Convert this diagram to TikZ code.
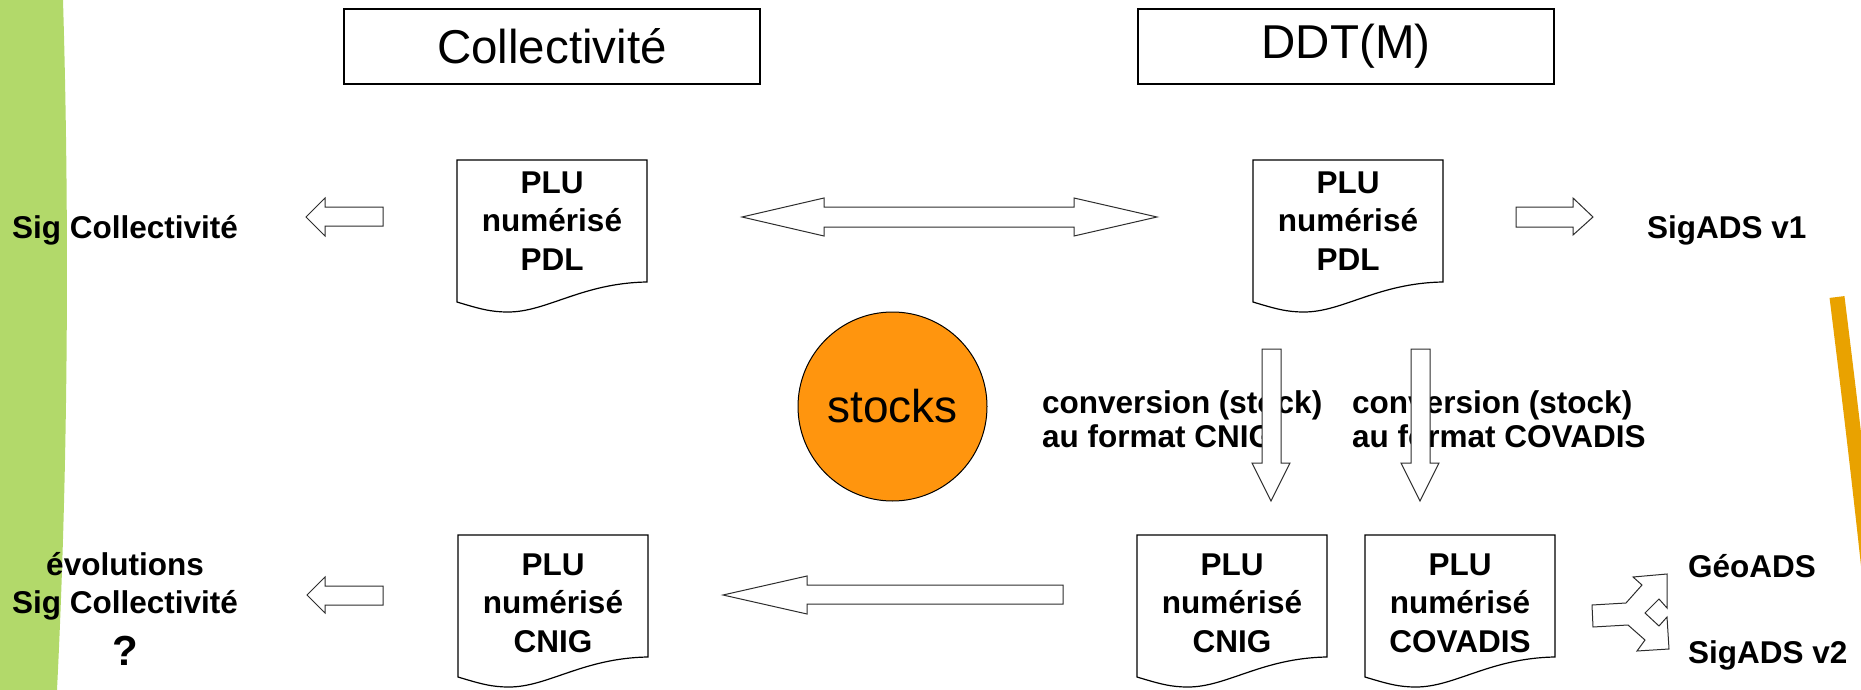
\documentclass[tikz,border=0pt]{standalone}
\usepackage{fontspec}
\setmainfont{Liberation Sans}
\definecolor{bandgreen}{RGB}{178,217,106}
\definecolor{stockorange}{RGB}{255,149,14}
\definecolor{curveorange}{RGB}{233,162,0}
\definecolor{arrowgray}{RGB}{45,45,45}
\tikzset{
 lbl/.style={font=\fontsize{31.5}{38.5}\selectfont\bfseries, inner sep=0pt, align=center},
 lbll/.style={font=\fontsize{31.5}{34}\selectfont\bfseries, inner sep=0pt, align=left},
 titlebox/.style={draw=black, line width=1.2pt, minimum width=416pt, minimum height=75pt, inner sep=0pt,
   font=\fontsize{47.5}{50}\selectfont},
 docout/.style={draw=black, line width=1.2pt, fill=white},
 blockarrow/.style={draw=arrowgray, line width=1pt, fill=white, line join=miter},
 stockcircle/.style={circle, draw=black, line width=1pt, fill=stockorange, minimum size=189pt, inner sep=0pt,
   font=\fontsize{46}{50}\selectfont},
}
\newcommand\docshape[2]{%
  \draw[docout] (#1,#2+142) -- (#1,#2) -- (#1+190,#2) -- (#1+190,#2+122)
   .. controls (#1+125,#2+123) and (#1+90,#2+152) .. (#1+51,#2+152)
   .. controls (#1+34,#2+152) and (#1+23,#2+149) .. (#1,#2+142) -- cycle;}
\begin{document}
\begin{tikzpicture}[x=1pt,y=-1pt]
\useasboundingbox (0,0) rectangle (1861,690);
% background decorations
\fill[bandgreen] (0,0) -- (63,0) .. controls (69,200) and (69,450) .. (57,690) -- (0,690) -- cycle;
\draw[curveorange, line width=15pt] (1837,297) .. controls (1846,370) and (1856,450) .. (1869,570);

% title boxes
\node[titlebox] (coll) at (552,46.5) {Collectivité};
\node[titlebox] (ddt) at (1346,46.5) {DDT(M)};

% document shapes
\docshape{457}{160}
\docshape{1253}{160}
\docshape{458}{535}
\docshape{1137}{535}
\docshape{1365}{535}

\node[lbl, anchor=base] (docA) at (552,270) {PLU\\numérisé\\PDL};
\node[lbl, anchor=base] (docB) at (1348,270) {PLU\\numérisé\\PDL};
\node[lbl, anchor=base] (docC) at (553,652) {PLU\\numérisé\\CNIG};
\node[lbl, anchor=base] (docD) at (1232,652) {PLU\\numérisé\\CNIG};
\node[lbl, anchor=base] (docE) at (1460,652) {PLU\\numérisé\\COVADIS};

% stocks
\node[stockcircle] (stocks) at (892.5,406.5) {stocks};

% labels
\node[lbl, anchor=base] (sigc) at (125,238) {Sig Collectivité};
\node[lbl, anchor=base] (evol) at (125,665) {évolutions\\Sig Collectivité\\[13pt]{\fontsize{42}{42}\selectfont ?}};
\node[lbl, anchor=base west] (sigv1) at (1647,238) {SigADS v1};
\node[lbl, anchor=base west] (geoads) at (1688,577) {GéoADS};
\node[lbl, anchor=base west] (sigv2) at (1688,663) {SigADS v2};
\node[lbll, anchor=base west] (convA) at (1042,447) {conversion (stock)\\au format CNIG};
\node[lbll, anchor=base west] (convB) at (1352,447) {conversion (stock)\\au format COVADIS};

% block arrows
\draw[blockarrow] (306,217) -- (325,198) -- (325,207) -- (383,207) -- (383,226) -- (325,226) -- (325,236) -- cycle;
\draw[blockarrow] (307,595) -- (325,577) -- (325,586) -- (383,586) -- (383,605) -- (325,605) -- (325,613) -- cycle;
\draw[blockarrow] (742,217) -- (824,198) -- (824,207) -- (1074,207) -- (1074,198) -- (1157,217)
   -- (1074,236) -- (1074,227) -- (824,227) -- (824,236) -- cycle;
\draw[blockarrow] (1516,207) -- (1573,207) -- (1573,198) -- (1593,217) -- (1573,235) -- (1573,227) -- (1516,227) -- cycle;
\draw[blockarrow] (1262,349) -- (1281,349) -- (1281,463) -- (1290,463) -- (1271,501) -- (1252,463) -- (1262,463) -- cycle;
\draw[blockarrow] (1411,349) -- (1430,349) -- (1430,463) -- (1439,463) -- (1420,501) -- (1401,463) -- (1411,463) -- cycle;
\draw[blockarrow] (723,595) -- (807,576) -- (807,585) -- (1063,585) -- (1063,604) -- (807,604) -- (807,614) -- cycle;
\draw[blockarrow] (1592,605) -- (1626,603) -- (1642,585) -- (1633,577) -- (1667,574) -- (1667,608) -- (1659,599)
   -- (1645,613) -- (1659,626) -- (1667,617) -- (1669,649) -- (1637,651) -- (1645,640) -- (1628,625) -- (1593,627) -- cycle;
\end{tikzpicture}
\end{document}
